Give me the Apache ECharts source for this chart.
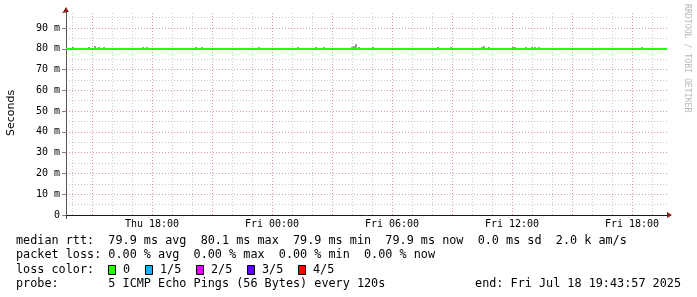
<!DOCTYPE html>
<html><head><meta charset="utf-8">
<script src="https://cdn.jsdelivr.net/npm/echarts@6/dist/echarts.min.js"></script>
<style>html,body{margin:0;padding:0;background:#fff}#c{width:697px;height:297px}</style>
</head><body><div id="c"></div>
<script>
// x values: hours since Thu 00:00
const xStart = 13.7, xEnd = 43.75;
const xLabelHours = [18, 24, 30, 36, 42];
const xLabelTexts = ['Thu 18:00', 'Fri 00:00', 'Fri 06:00', 'Fri 12:00', 'Fri 18:00'];
const minorGridHours = [14,15,16,17,18,19,20,21,22,23,24,25,26,27,28,29,30,31,32,33,34,35,36,37,38,39,40,41,42,43];
const majorGridHours = [15,18,21,24,27,30,33,36,39,42];
const yLabelValues = [0,10,20,30,40,50,60,70,80,90];
const yLabelTexts = ['0','10 m','20 m','30 m','40 m','50 m','60 m','70 m','80 m','90 m'];
const yMax = 97.7;
// median RTT (ms)
const medianHours = [13.7, 43.75];
const medianRtt = [79.9, 79.9];
// smoke (ms): spikes above the median
const smokeHours = [14.05,14.85,15.15,15.35,15.6,17.55,17.75,20.2,20.5,23.35,25.3,26.2,26.6,28.0,28.1,28.18,28.35,29.05,32.3,32.95,34.5,34.58,34.85,36.05,36.15,36.7,37.0,37.15,37.35,42.5];
const smokeTop =   [80.9,80.9,81.3,80.9,80.9,80.9,80.9,80.9,80.9,80.9,80.9,80.9,80.9,80.9,81.3,82.3,80.9,80.9,80.9,80.9,80.9,81.3,80.9,80.9,80.9,80.9,80.9,80.9,80.9,80.9];
// legend stats
const rttStats = ['79.9 ms avg', '80.1 ms max', '79.9 ms min', '79.9 ms now', '0.0 ms sd', '2.0 k am/s'];
const lossStats = ['0.00 % avg', '0.00 % max', '0.00 % min', '0.00 % now'];
const lossLabels = ['0', '1/5', '2/5', '3/5', '4/5'];
const lossColors = ['#26ff00', '#00b8ff', '#dd00ff', '#5e00ff', '#ff0000'];
const probeText = '5 ICMP Echo Pings (56 Bytes) every 120s';
const endText = 'end: Fri Jul 18 19:43:57 2025';

const chart = echarts.init(document.getElementById('c'), null, {renderer: 'canvas'});
const MONO = '"DejaVu Sans Mono", monospace';
const gridMinor = 'rgba(140,140,140,0.45)';
const gridMajor = 'rgba(160,40,40,0.45)';
const legendFont = '11.8px ' + MONO;

const medianData = medianHours.map((h, i) => [h, medianRtt[i]]);
const smokeData = smokeHours.map((h, i) => [h, medianRtt[0], smokeTop[i]]);

const vgrid = minorGridHours.map(h => ({
  xAxis: h,
  lineStyle: {color: majorGridHours.indexOf(h) >= 0 ? gridMajor : gridMinor, type: [1, 2], width: 1}
}));

const graphics = [];
function txt(x, y, s, extra) {
  graphics.push(Object.assign({type: 'text', x: x, y: y, silent: true,
    style: Object.assign({text: s, font: legendFont, fill: '#000', verticalAlign: 'middle', align: 'left'}, extra && extra.style || {})},
    extra && extra.rest || {}));
}
txt(16, 241, 'median rtt:  ' + rttStats.join('  '));
txt(16, 255, 'packet loss: ' + lossStats.join('  '));
txt(16, 270, 'loss color:');
const boxX = [108, 145, 196, 247, 298];
lossLabels.forEach((l, i) => {
  graphics.push({type: 'rect', silent: true, shape: {x: boxX[i] + 0.5, y: 265.5, width: 7, height: 9},
    style: {fill: lossColors[i], stroke: '#000', lineWidth: 1}});
  txt(boxX[i] + 15, 270, l);
});
txt(16, 284, 'probe:       ' + probeText);
txt(681, 284, endText, {style: {align: 'right'}});
// y axis title
graphics.push({type: 'text', x: 11, y: 113, rotation: Math.PI / 2, silent: true,
  style: {text: 'Seconds', font: '11px "DejaVu Sans", sans-serif', fill: '#000', align: 'center', verticalAlign: 'middle'}});
// watermark
graphics.push({type: 'text', x: 687, y: 4, rotation: -Math.PI / 2, silent: true,
  style: {text: 'RRDTOOL / TOBI OETIKER', font: '8.2px ' + MONO, fill: '#b8b8b8', align: 'left', verticalAlign: 'middle'}});

chart.setOption({
  animation: false,
  backgroundColor: '#ffffff',
  grid: {left: 66, right: 30, top: 12, bottom: 82, containLabel: false},
  xAxis: {
    type: 'value', min: xStart, max: xEnd,
    axisLine: {show: true, lineStyle: {color: '#1a1a1a', width: 1}},
    axisTick: {show: true, customValues: [xStart], length: 4, lineStyle: {color: '#555'}},
    splitLine: {show: false},
    axisLabel: {
      customValues: xLabelHours, margin: 4,
      formatter: v => { const i = xLabelHours.indexOf(v); return i >= 0 ? xLabelTexts[i] : ''; },
      fontFamily: 'DejaVu Sans Mono', fontSize: 10, color: '#000'
    }
  },
  yAxis: {
    type: 'value', min: 0, max: yMax, interval: 10,
    axisLine: {show: true, lineStyle: {color: '#555', width: 1}},
    axisTick: {show: true, length: 4, lineStyle: {color: 'rgba(120,60,60,0.7)'}},
    splitLine: {show: true, showMinLine: false, showMaxLine: false, lineStyle: {color: gridMajor, type: [1, 2]}},
    minorTick: {show: false, splitNumber: 2},
    minorSplitLine: {show: true, lineStyle: {color: gridMinor, type: [1, 2]}},
    axisLabel: {
      customValues: yLabelValues, margin: 6,
      formatter: v => { const i = yLabelValues.indexOf(v); return i >= 0 ? yLabelTexts[i] : ''; },
      fontFamily: 'DejaVu Sans Mono', fontSize: 10, color: '#000'
    }
  },
  series: [
    {type: 'line', name: 'grid', data: [], z: 1, silent: true,
      markLine: {silent: true, symbol: 'none', label: {show: false}, animation: false, data: vgrid}},
    {type: 'custom', name: 'smoke', z: 2, silent: true, data: smokeData,
      renderItem: (params, api) => {
        const p0 = api.coord([api.value(0), api.value(1)]);
        const p1 = api.coord([api.value(0), api.value(2)]);
        return {type: 'rect', shape: {x: Math.round(p0[0]) - 1, y: p1[1], width: 2, height: p0[1] - p1[1]},
          style: {fill: '#9c9c9c'}};
      }},
    {type: 'line', name: 'median rtt', z: 3, data: medianData, showSymbol: false, symbol: 'none',
      lineStyle: {color: lossColors[0], width: 2}}
  ],
  graphic: graphics
});

// axis arrows positioned through the chart's scales
const pX = chart.convertToPixel({gridIndex: 0}, [xEnd, 0]);
const pY = chart.convertToPixel({gridIndex: 0}, [xStart, yMax]);
graphics.push({type: 'polygon', silent: true, shape: {points: [[pX[0], pX[1] - 3], [pX[0] + 5, pX[1]], [pX[0], pX[1] + 3]]}, style: {fill: '#8b1a1a'}});
graphics.push({type: 'polygon', silent: true, shape: {points: [[pY[0] - 3, pY[1]], [pY[0], pY[1] - 5], [pY[0] + 3, pY[1]]]}, style: {fill: '#8b1a1a'}});
chart.setOption({graphic: graphics});
</script>
</body></html>
